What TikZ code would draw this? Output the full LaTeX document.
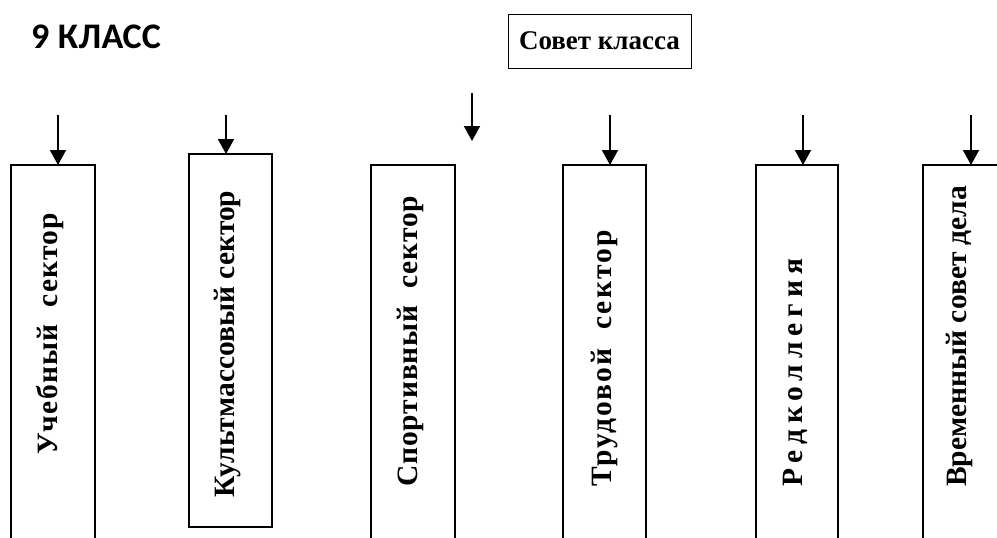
\documentclass[tikz,border=0pt]{standalone}
\usepackage{fontspec}
\setmainfont{Liberation Serif}
\newfontfamily\calib{Carlito}
\usetikzlibrary{arrows.meta}
\begin{document}
\begin{tikzpicture}[x=1pt,y=-1pt,
  secbox/.style={minimum width=84pt, inner sep=0pt, outer sep=0pt},
  sectext/.style={rotate=90, anchor=base west, font=\bfseries\fontsize{29.5}{32}\selectfont, inner sep=0pt},
  feed/.style={line width=1.9pt, -{Triangle[length=15pt,width=16pt]}},
  edge/.style={line width=1.9pt}]
\useasboundingbox (0,0) rectangle (997,538);
\clip (0,0) rectangle (997,538);

\node[anchor=base west, inner sep=0pt, font=\calib\bfseries\fontsize{36}{38}\selectfont] (title) at (31,48) {\addfontfeature{LetterSpace=1}9 КЛАСС};
\node[draw, line width=1pt, minimum width=183pt, minimum height=54pt, inner sep=0pt, font=\bfseries\fontsize{27}{30}\selectfont] (sovet) at (599.5,41) {Совет класса};

\node[secbox, minimum height=380pt] (b1) at (53,355) {};
\node[secbox, draw, edge, minimum width=83pt, minimum height=373pt] (b2) at (230.5,340.5) {};
\node[secbox, minimum height=380pt] (b3) at (413,355) {};
\node[secbox, minimum width=83pt, minimum height=380pt] (b4) at (604.5,355) {};
\node[secbox, minimum width=82pt, minimum height=380pt] (b5) at (797,355) {};
\node[secbox, minimum height=380pt] (b6) at (965,355) {};

\foreach \b in {b1,b3,b4,b5,b6}
  \draw[edge] (\b.south west) |- (\b.north east) -- (\b.south east);

\coordinate (a1) at (58,115);
\coordinate (a2) at (226,115);
\coordinate (a3s) at (472,93);
\coordinate (a3e) at (472,141);
\coordinate (a4) at (610,115);
\coordinate (a5) at (803,115);
\coordinate (a6) at (971,115);
\draw[feed] (a1) -- (a1 |- b1.north);
\draw[feed] (a2) -- (a2 |- b2.north);
\draw[feed] (a3s) -- (a3e);
\draw[feed] (a4) -- (a4 |- b4.north);
\draw[feed] (a5) -- (a5 |- b5.north);
\draw[feed] (a6) -- (a6 |- b6.north);

\node[sectext] (t1) at (57,455) {\addfontfeature{LetterSpace=4}Учебный\ \ сектор};
\node[sectext] (t2) at (234,498) {Культмассовый сектор};
\node[sectext] (t3) at (417,487) {\addfontfeature{LetterSpace=3}Спортивный\ \ сектор};
\node[sectext] (t4) at (611,487) {\addfontfeature{LetterSpace=7}Трудовой\ \ сектор};
\node[sectext] (t5) at (802,487) {\addfontfeature{LetterSpace=20}Редколлегия};
\node[sectext] (t6) at (966,487) {Временный совет дела};
\end{tikzpicture}
\end{document}
